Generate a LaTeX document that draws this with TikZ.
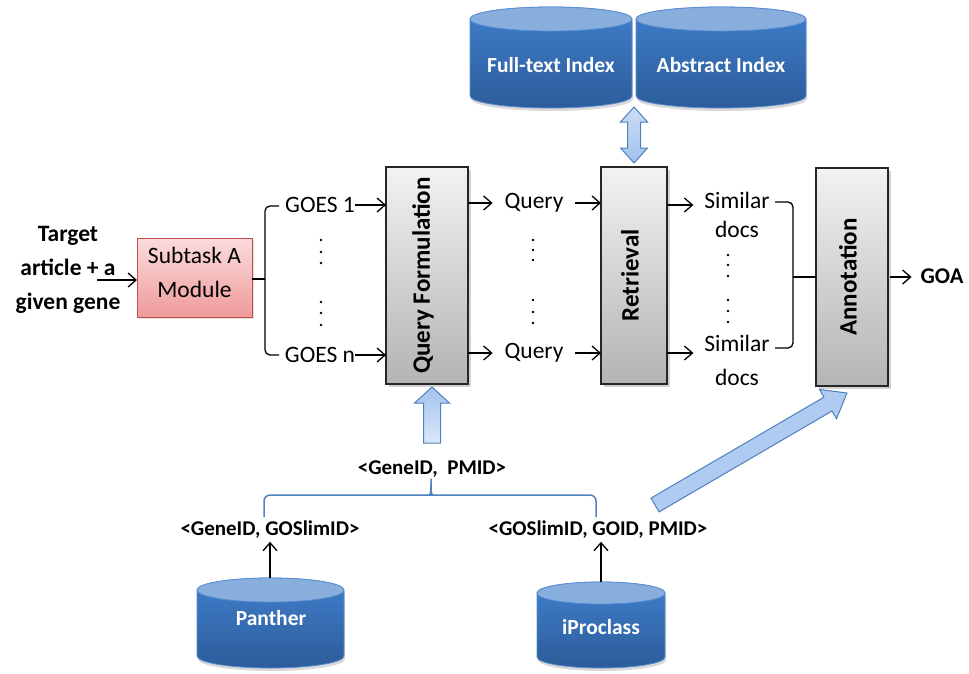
\documentclass[tikz,border=0pt]{standalone}
\usepackage{fontspec}
\setmainfont{Carlito}
\usetikzlibrary{calc,shadows,arrows.meta}

\definecolor{cylbodytop}{HTML}{3F7ECC}
\definecolor{cylbodybot}{HTML}{2D5C99}
\definecolor{cyltopc}{HTML}{88AEDE}
\definecolor{cylline}{HTML}{5A8ED3}
\definecolor{fatline}{HTML}{4F81BD}
\definecolor{fatlight}{HTML}{DCE8F9}
\definecolor{fatdark}{HTML}{A2C2EE}
\definecolor{pinktop}{HTML}{FBDCDC}
\definecolor{pinkbot}{HTML}{EF9A9A}
\definecolor{pinkline}{HTML}{C0504D}
\definecolor{graytop}{HTML}{F2F2F2}
\definecolor{graybot}{HTML}{B4B4B4}

\tikzset{
  every node/.style={inner sep=0pt, outer sep=0pt},
  plain/.style={font=\fontsize{23.5}{28}\selectfont},
  boldlbl/.style={font=\fontsize{23.5}{34}\selectfont\bfseries, align=center},
  idlbl/.style={font=\fontsize{21}{26}\selectfont\bfseries},
  stage/.style={draw=black!85, line width=1.5pt, top color=graytop, bottom color=graybot,
    drop shadow={shadow xshift=3pt, shadow yshift=-3pt, opacity=0.35}},
  stagetitle/.style={rotate=90, font=\fontsize{25}{28}\selectfont\bfseries},
  modbox/.style={draw=pinkline, line width=1pt, top color=pinktop, bottom color=pinkbot,
    drop shadow={shadow xshift=2pt, shadow yshift=-2pt, opacity=0.25}},
  modtext/.style={align=center, font=\fontsize{23.5}{34}\selectfont},
  flow/.style={line width=1.3pt, -{Straight Barb[length=8pt,width=14pt]}},
  bracket/.style={line width=1.3pt, rounded corners=5pt},
  cylbody/.style={draw=cylline, line width=0.8pt, top color=cylbodytop, bottom color=cylbodybot,
    drop shadow={shadow xshift=1pt, shadow yshift=-3pt, opacity=0.3}},
  cyltop/.style={draw=cylline, line width=0.8pt, fill=cyltopc},
  cyllbl/.style={text=white, font=\fontsize{21.5}{24}\selectfont\bfseries},
  fat/.style={draw=fatline, line width=1pt, top color=fatdark, bottom color=fatlight},
  fatdbl/.style={draw=fatline, line width=1pt, top color=fatlight!70!fatdark, bottom color=fatdark},
  fatdiag/.style={draw=fatline, line width=1pt, fill=fatdark!85!white},
  bluebrace/.style={draw=fatline, line width=1.5pt, rounded corners=6pt},
}

% database drum: left x, right x, top y, bottom y, ellipse half-height
\newcommand\drawcyl[5]{%
  \pgfmathsetmacro\cylcx{(#1+#2)/2}%
  \pgfmathsetmacro\cylrx{(#2-#1)/2}%
  \pgfmathsetmacro\cylyt{#3+#5}%
  \pgfmathsetmacro\cylyb{#4-#5}%
  \path[cylbody] (#1,\cylyt) -- (#1,\cylyb)
     arc[start angle=180, end angle=360, x radius=\cylrx pt, y radius=#5 pt]
     -- (#2,\cylyt)
     arc[start angle=0, end angle=180, x radius=\cylrx pt, y radius=#5 pt] -- cycle;
  \path[cyltop] (\cylcx,\cylyt) ellipse[x radius=\cylrx pt, y radius=#5 pt];
}

% block arrow: tail, tip, shaft half width, head half width, head length, style
\newcommand\fatarrow[6]{%
  \coordinate (fahead) at ($(#2)!#5!(#1)$);
  \path[#6] ($(#1)!#3!90:(#2)$) -- ($(fahead)!#3!90:(#2)$) -- ($(fahead)!#4!90:(#2)$)
    -- (#2) -- ($(fahead)!#4!-90:(#2)$) -- ($(fahead)!#3!-90:(#2)$)
    -- ($(#1)!#3!-90:(#2)$) -- cycle;
}

% double-headed block arrow between two points
\newcommand\fatdouble[5]{%
  \coordinate (fdA) at ($(#1)!#5!(#2)$);
  \coordinate (fdB) at ($(#2)!#5!(#1)$);
  \path[fatdbl] (#1) -- ($(fdA)!#4!90:(#2)$) -- ($(fdA)!#3!90:(#2)$)
    -- ($(fdB)!#3!90:(#2)$) -- ($(fdB)!#4!90:(#2)$) -- (#2)
    -- ($(fdB)!#4!-90:(#2)$) -- ($(fdB)!#3!-90:(#2)$)
    -- ($(fdA)!#3!-90:(#2)$) -- ($(fdA)!#4!-90:(#2)$) -- cycle;
}

\begin{document}
\begin{tikzpicture}[x=1pt,y=-1pt]
\useasboundingbox (0,0) rectangle (969,673);

% ---- index databases ----
\drawcyl{470}{632}{7}{108}{12}
\node[cyllbl] (ft) at (551,65) {Full-text Index};
\drawcyl{636}{806}{7}{108}{12}
\node[cyllbl] (ab) at (721,65) {Abstract Index};

% ---- processing stages ----
\node[stage, minimum width=82pt, minimum height=217pt] (qf) at (427,275.5) {};
\node[stagetitle] (qft) at ([xshift=-4pt]qf.center) {Query Formulation};
\node[stage, minimum width=66pt, minimum height=217pt] (rt) at (634,275.5) {};
\node[stagetitle] (rtt) at ([xshift=-4pt]rt.center) {Retrieval};
\node[stage, minimum width=72pt, minimum height=218pt] (ann) at (852,277) {};
\node[stagetitle] (annt) at ([xshift=-4pt]ann.center) {Annotation};

% ---- input and subtask module ----
\node[boldlbl] (tgt) at (68,270) {Target\\article + a\\given gene};
\node[modbox, minimum width=115pt, minimum height=79pt] (sub) at (194.5,277.5) {};
\node[modtext] (subt) at ([yshift=5pt]sub.center) {Subtask A\\Module};
\coordinate (tin) at (97,280);
\draw[flow] (tin) -- (tin -| sub.west);

% ---- GOES list ----
\node[plain] (g1) at (320,205) {GOES 1};
\node[plain] (gn) at (320,355) {GOES n};
\coordinate (lbr) at (265,279);
\coordinate (g1b) at (279,206);
\coordinate (gnb) at (279,355);
\draw[line width=1.3pt] (sub.east |- lbr) -- (lbr);
\draw[bracket] (g1b) -| (lbr |- gnb) -- (gnb);
\draw[flow] (g1.east) -- (g1.east -| qf.west);
\draw[flow] (gn.east) -- (gn.east -| qf.west);
\foreach \y in {240,252,263,302,313,325} \fill (321,\y) circle[radius=1.4pt];

% ---- queries ----
\node[plain] (q1) at (534,203) {Query};
\node[plain] (qn) at (534,353) {Query};
\draw[flow] (qf.east |- q1) -- ([xshift=-12pt]q1.west);
\draw[flow] ([xshift=12pt]q1.east) -- (q1.east -| rt.west);
\draw[flow] (qf.east |- qn) -- ([xshift=-12pt]qn.west);
\draw[flow] ([xshift=12pt]qn.east) -- (qn.east -| rt.west);
\foreach \y in {240,250,260,300,312,323} \fill (533,\y) circle[radius=1.4pt];

% ---- retrieved documents ----
\node[plain] (s1) at (737,200) {Similar};
\node[plain] (d1) at (737,229) {docs};
\node[plain] (s2) at (737,343) {Similar};
\node[plain] (d2) at (737,377) {docs};
\coordinate (s1in) at ([xshift=-11pt,yshift=-5pt]s1.west);
\coordinate (s2in) at ([xshift=-11pt,yshift=-10pt]s2.west);
\draw[flow] (rt.east |- s1in) -- (s1in);
\draw[flow] (rt.east |- s2in) -- (s2in);
\foreach \y in {255,265,276,300,311,322} \fill (728,\y) circle[radius=1.4pt];
\coordinate (rbm) at (793,277);
\coordinate (rb1) at (775,202);
\coordinate (rb2) at (775,348);
\draw[bracket] (rb1) -| (rbm |- rb2) -- (rb2);
\draw[line width=1.3pt] (rbm) -- (rbm -| ann.west);

% ---- output ----
\node[font=\fontsize{22.5}{26}\selectfont\bfseries] (goa) at (942,276) {GOA};
\draw[flow] ([xshift=2pt]ann.east) -- ([xshift=-9pt]ann.east -| goa.west);

% ---- index access ----
\coordinate (idxjoin) at (634,107);
\coordinate (rtin) at ($(rt.north)+(0,-4)$);
\fatdouble{idxjoin}{rtin}{6.5pt}{13.5pt}{15pt}

% ---- gene/document pairs ----
\node[idlbl] (gp) at (432,469) {<GeneID,\ \ PMID>};
\coordinate (qfin) at (432,443);
\coordinate (qftip) at ($(qfin |- qf.south)+(0,3)$);
\fatarrow{qfin}{qftip}{8.5pt}{17.5pt}{16pt}{fat}

\node[idlbl] (pg) at (270,530) {<GeneID, GOSlimID>};
\node[idlbl] (gg) at (598,530) {<GOSlimID, GOID, PMID>};
\coordinate (bl) at (264,517);
\coordinate (br) at (596,517);
\coordinate (gpb) at (431,475);
\draw[bluebrace] (bl) |- (427,495) .. controls (431,495) and (431,490) .. (gpb)
  .. controls (431,490) and (431,495) .. (435,495) -| (br);

\coordinate (gotail) at (655,505);
\coordinate (annin) at ($(ann.south)+(-5,7)$);
\fatarrow{gotail}{annin}{8pt}{17pt}{22pt}{fatdiag}

% ---- source databases ----
\drawcyl{197}{344}{578}{668}{12}
\node[cyllbl] (pan) at (271,618) {Panther};
\drawcyl{537}{665}{582}{668}{11}
\node[cyllbl] (ipc) at (601,627) {iProclass};
\coordinate (pantop) at (270,578);
\coordinate (ipctop) at (601,582);
\draw[flow] (pantop) -- ([yshift=-3pt]pantop |- pg.south);
\draw[flow] (ipctop) -- ([yshift=-3pt]ipctop |- gg.south);

\end{tikzpicture}
\end{document}
